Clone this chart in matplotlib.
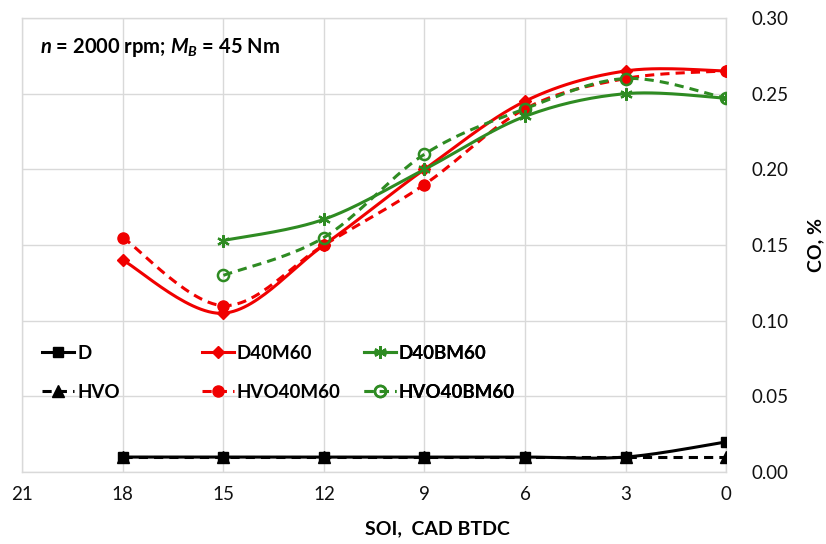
import numpy as np
import matplotlib
matplotlib.use("Agg")
import matplotlib.pyplot as plt
from matplotlib.lines import Line2D

plt.rcParams['font.family'] = ['Lato', 'DejaVu Sans']
plt.rcParams['mathtext.fontset'] = 'custom'
plt.rcParams['mathtext.rm'] = 'Lato:bold'
plt.rcParams['mathtext.it'] = 'Lato:bold:italic'
plt.rcParams['mathtext.bf'] = 'Lato:bold'

soi = [18, 15, 12, 9, 6, 3, 0]
soi_b = [15, 12, 9, 6, 3, 0]
D = [0.01, 0.01, 0.01, 0.01, 0.01, 0.01, 0.02]
HVO = [0.01, 0.01, 0.01, 0.01, 0.01, 0.01, 0.01]
D40M60 = [0.14, 0.105, 0.15, 0.20, 0.245, 0.265, 0.265]
HVO40M60 = [0.155, 0.11, 0.15, 0.19, 0.24, 0.26, 0.265]
D40BM60 = [0.153, 0.167, 0.20, 0.235, 0.25, 0.247]
HVO40BM60 = [0.13, 0.155, 0.21, 0.24, 0.26, 0.247]

x_ticks = [21, 18, 15, 12, 9, 6, 3, 0]
y_ticks = [0.00, 0.05, 0.10, 0.15, 0.20, 0.25, 0.30]


def smooth(xs, ys, n=30):
    P = np.column_stack([xs, ys]).astype(float)
    sx, sy = 1 / 3.0, 1 / 0.05
    Q = P * [sx, sy]
    out = [Q[0]]
    m = len(Q)
    for i in range(m - 1):
        p0 = Q[i - 1] if i > 0 else Q[i]
        p1, p2 = Q[i], Q[i + 1]
        p3 = Q[i + 2] if i + 2 < m else Q[i + 1]
        c1 = p1 + (p2 - p0) / 6
        c2 = p2 - (p3 - p1) / 6
        t = np.linspace(0, 1, n)[1:, None]
        seg = (1 - t) ** 3 * p1 + 3 * (1 - t) ** 2 * t * c1 + 3 * (1 - t) * t ** 2 * c2 + t ** 3 * p2
        out.extend(seg)
    out = np.array(out) / [sx, sy]
    return out[:, 0], out[:, 1]


fig = plt.figure(figsize=(8.26, 5.44), dpi=100)
ax = fig.add_axes([0.027, 0.132, 0.852, 0.835])

red = '#f00000'
green = '#2e8b22'
series = [
    (soi, D, dict(color='black', ls='-', marker='s', ms=7, mfc='black')),
    (soi, HVO, dict(color='black', ls=(0, (3, 2)), marker='^', ms=8, mfc='black')),
    (soi, D40M60, dict(color=red, ls='-', marker='D', ms=6.5, mfc=red)),
    (soi, HVO40M60, dict(color=red, ls=(0, (3, 2)), marker='o', ms=8, mfc=red)),
    (soi_b, D40BM60, dict(color=green, ls='-', marker=(6, 2, 0), ms=9, mfc=green, mew=1.6)),
    (soi_b, HVO40BM60, dict(color=green, ls=(0, (3, 2)), marker='o', ms=8, mfc='none', mew=1.8)),
]
names = ['D', 'HVO', 'D40M60', 'HVO40M60', 'D40BM60', 'HVO40BM60']

handles = []
for (xs, ys, st), nm in zip(series, names):
    sxv, syv = smooth(xs, ys)
    ax.plot(sxv, syv, color=st['color'], ls=st['ls'], lw=2.2, zorder=3)
    ax.plot(xs, ys, ls='none', marker=st['marker'], ms=st['ms'], color=st['color'],
            mfc=st['mfc'], mec=st['color'], mew=st.get('mew', 1.0), zorder=4)
    handles.append(Line2D([], [], color=st['color'], ls=st['ls'], lw=2.2, marker=st['marker'],
                          ms=st['ms'], mfc=st['mfc'], mec=st['color'], mew=st.get('mew', 1.0)))

ax.set_xlim(21, 0)
ax.set_ylim(0, 0.30)
ax.set_xticks(x_ticks)
ax.set_xticklabels([str(v) for v in x_ticks])
ax.set_yticks(y_ticks)
ax.set_yticklabels([f"{v:.2f}" for v in y_ticks])
ax.yaxis.tick_right()
ax.yaxis.set_label_position('right')
ax.tick_params(axis='both', length=0, labelsize=13.5, colors='#111111')
ax.tick_params(axis='y', pad=18)
ax.tick_params(axis='x', pad=10)
ax.grid(True, color='#d9d9d9', lw=1.0, zorder=0)
for s in ax.spines.values():
    s.set_color('#d9d9d9')
    s.set_linewidth(1.0)

ax.set_xlabel('SOI,  CAD BTDC', fontsize=14, fontweight='bold')
ax.xaxis.set_label_coords(0.59, -0.105)
ax.set_ylabel('CO, %', fontsize=14, fontweight='bold', labelpad=14)

ax.text(0.025, 0.935, r'$n$ = 2000 rpm; $M_B$ = 45 Nm', transform=ax.transAxes,
        fontsize=14.5, fontweight='bold', va='center', ha='left')

col_x = [0.01, 0.237, 0.467]
for k in range(3):
    leg = ax.legend(handles[2 * k:2 * k + 2], names[2 * k:2 * k + 2], loc='upper left',
                    bbox_to_anchor=(col_x[k], 0.31), frameon=False,
                    handlelength=1.7, handletextpad=0.15, labelspacing=1.2, borderaxespad=0.3,
                    prop={'weight': 'bold', 'size': 13.5})
    ax.add_artist(leg)

fig.savefig('out.png', dpi=100)
